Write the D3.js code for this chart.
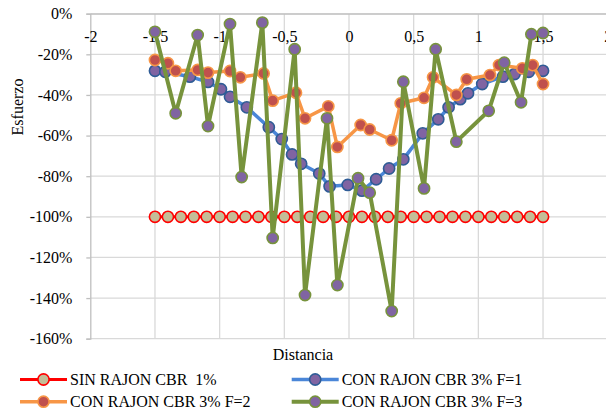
<!DOCTYPE html>
<html>
<head>
<meta charset="utf-8">
<script src="https://cdn.jsdelivr.net/npm/d3@7/dist/d3.min.js"></script>
<style>
  html, body { margin: 0; padding: 0; background: #fff; }
  svg { display: block; }
</style>
</head>
<body>
<svg id="chart" width="606" height="413" font-family="Liberation Serif, DejaVu Serif, serif"></svg>
<script>
// Distance ticks (x) and stress ticks (y)
const xTickValues = [-2, -1.5, -1, -0.5, 0, 0.5, 1, 1.5, 2];
const yTickValues = [0, -0.2, -0.4, -0.6, -0.8, -1.0, -1.2, -1.4, -1.6];

// SIN RAJON CBR 1%
const distSin = [-1.5, -1.4, -1.3, -1.2, -1.1, -1.0, -0.9, -0.8, -0.7, -0.6, -0.5,
                 -0.4, -0.3, -0.2, -0.1, 0.0, 0.1, 0.2, 0.3, 0.4, 0.5,
                 0.6, 0.7, 0.8, 0.9, 1.0, 1.1, 1.2, 1.3, 1.4, 1.5];
const valSin = [-1, -1, -1, -1, -1, -1, -1, -1, -1, -1, -1,
                -1, -1, -1, -1, -1, -1, -1, -1, -1, -1,
                -1, -1, -1, -1, -1, -1, -1, -1, -1, -1];

// CON RAJON CBR 3% F=1
const distF1 = [-1.50, -1.42, -1.23, -1.09, -0.99, -0.92, -0.79, -0.62, -0.52, -0.44,
                -0.37, -0.23, -0.15, -0.01, 0.10, 0.21, 0.31, 0.42, 0.57, 0.69,
                0.77, 0.86, 0.92, 1.03, 1.19, 1.28, 1.39, 1.50];
const valF1 = [-0.281, -0.286, -0.310, -0.336, -0.372, -0.409, -0.461, -0.559, -0.617, -0.693,
               -0.739, -0.787, -0.850, -0.843, -0.871, -0.815, -0.762, -0.717, -0.589, -0.520,
               -0.461, -0.421, -0.392, -0.346, -0.310, -0.297, -0.286, -0.281];

// CON RAJON CBR 3% F=2
const distF2 = [-1.50, -1.40, -1.34, -1.17, -1.09, -0.92, -0.84, -0.66, -0.59, -0.41,
                -0.34, -0.16, -0.09, 0.09, 0.16, 0.33, 0.40, 0.58, 0.65, 0.83,
                0.91, 1.09, 1.16, 1.34, 1.42, 1.50];
const valF2 = [-0.228, -0.244, -0.281, -0.277, -0.290, -0.282, -0.313, -0.294, -0.428, -0.389,
               -0.515, -0.456, -0.656, -0.548, -0.570, -0.623, -0.441, -0.414, -0.313, -0.400,
               -0.323, -0.302, -0.253, -0.269, -0.253, -0.346];

// CON RAJON CBR 3% F=3
const distF3 = [-1.50, -1.34, -1.17, -1.09, -0.92, -0.83, -0.67, -0.59, -0.42, -0.34,
                -0.17, -0.09, 0.07, 0.16, 0.33, 0.42, 0.58, 0.67, 0.83, 1.08,
                1.20, 1.33, 1.41, 1.50];
const valF3 = [-0.089, -0.490, -0.105, -0.553, -0.051, -0.804, -0.044, -1.104, -0.175, -1.385,
               -0.515, -1.336, -0.810, -0.881, -1.464, -0.335, -0.860, -0.175, -0.630, -0.478,
               -0.241, -0.436, -0.101, -0.095];

const seriesNames = ["SIN RAJON CBR  1%", "CON RAJON CBR 3% F=1",
                     "CON RAJON CBR 3% F=2", "CON RAJON CBR 3% F=3"];

const series = [
  { name: seriesNames[0], xs: distSin, ys: valSin, line: "#ff0000", lw: 3,
    fill: "#c4bd97", stroke: "#ff0000" },
  { name: seriesNames[1], xs: distF1, ys: valF1, line: "#4a86d8", lw: 3.5,
    fill: "#8064a2", stroke: "#2f5c96" },
  { name: seriesNames[2], xs: distF2, ys: valF2, line: "#f79646", lw: 3.5,
    fill: "#c0504d", stroke: "#f79646" },
  { name: seriesNames[3], xs: distF3, ys: valF3, line: "#77933c", lw: 4,
    fill: "#8064a2", stroke: "#77933c" }
];

const svg = d3.select("#chart");
const x = d3.scaleLinear().domain([-2, 2]).range([90.3, 607.7]);
const y = d3.scaleLinear().domain([-1.6, 0]).range([338.7, 13.7]);

const fmtX = d => String(d).replace(".", ",");
const fmtY = d => Math.round(d * 100) + "%";

// gridlines
const grid = svg.append("g");
grid.selectAll("line.h").data(yTickValues).join("line")
  .attr("x1", x(-2)).attr("x2", x(2))
  .attr("y1", d => y(d)).attr("y2", d => y(d))
  .attr("stroke", "#d9d9d9").attr("stroke-width", 1.3);
grid.selectAll("line.v").data(xTickValues.slice(1)).join("line")
  .attr("x1", d => x(d)).attr("x2", d => x(d))
  .attr("y1", y(0)).attr("y2", y(-1.6))
  .attr("stroke", "#d9d9d9").attr("stroke-width", 1.3);

// vertical (stress) axis on the left
const yAxis = svg.append("g").attr("transform", `translate(${x(-2)},0)`)
  .call(d3.axisLeft(y).tickValues(yTickValues).tickFormat(fmtY).tickSize(4).tickPadding(14))
  .attr("font-family", null).attr("font-size", 16);
yAxis.select(".domain").attr("stroke", "#bfbfbf").attr("stroke-width", 1.3);
yAxis.selectAll(".tick line").attr("stroke", "#bfbfbf").attr("stroke-width", 1.3);
yAxis.selectAll(".tick text").attr("fill", "#000");

// horizontal (distance) axis at 0 %
const xAxis = svg.append("g").attr("transform", `translate(0,${y(0)})`)
  .call(d3.axisBottom(x).tickValues(xTickValues).tickFormat(fmtX).tickSize(0).tickPadding(17))
  .attr("font-family", null).attr("font-size", 16);
xAxis.select(".domain").attr("stroke", "#bfbfbf").attr("stroke-width", 1.3);
xAxis.selectAll(".tick text").attr("fill", "#000");

// axis titles
svg.append("text").attr("x", 303).attr("y", 360).attr("text-anchor", "middle")
  .attr("font-size", 16).text("Distancia");
svg.append("text").attr("transform", "translate(23,107) rotate(-90)")
  .attr("text-anchor", "middle").attr("font-size", 16).text("Esfuerzo");

// series
const line = d3.line().x(d => x(d[0])).y(d => y(d[1]));
series.forEach(s => {
  const pts = s.xs.map((v, i) => [v, s.ys[i]]);
  const g = svg.append("g");
  g.append("path").attr("d", line(pts)).attr("fill", "none")
    .attr("stroke", s.line).attr("stroke-width", s.lw).attr("stroke-linejoin", "round");
  g.selectAll("circle").data(pts).join("circle")
    .attr("cx", d => x(d[0])).attr("cy", d => y(d[1])).attr("r", 5.6)
    .attr("fill", s.fill).attr("stroke", s.stroke).attr("stroke-width", 1.6);
});

// legend
const legendPos = [[20, 379.5], [291.7, 379.5], [20, 401.7], [291.7, 401.7]];
series.forEach((s, i) => {
  const [lx, ly] = legendPos[i];
  const g = svg.append("g").attr("transform", `translate(${lx},${ly})`);
  g.append("line").attr("x1", 0).attr("x2", 47).attr("y1", 0).attr("y2", 0)
    .attr("stroke", s.line).attr("stroke-width", s.lw);
  g.append("circle").attr("cx", 23.5).attr("cy", 0).attr("r", 5.6)
    .attr("fill", s.fill).attr("stroke", s.stroke).attr("stroke-width", 1.6);
  g.append("text").attr("x", 50).attr("y", 0).attr("dy", "0.35em")
    .attr("font-size", 16).attr("xml:space", "preserve").style("white-space", "pre")
    .text(s.name);
});
</script>
</body>
</html>
